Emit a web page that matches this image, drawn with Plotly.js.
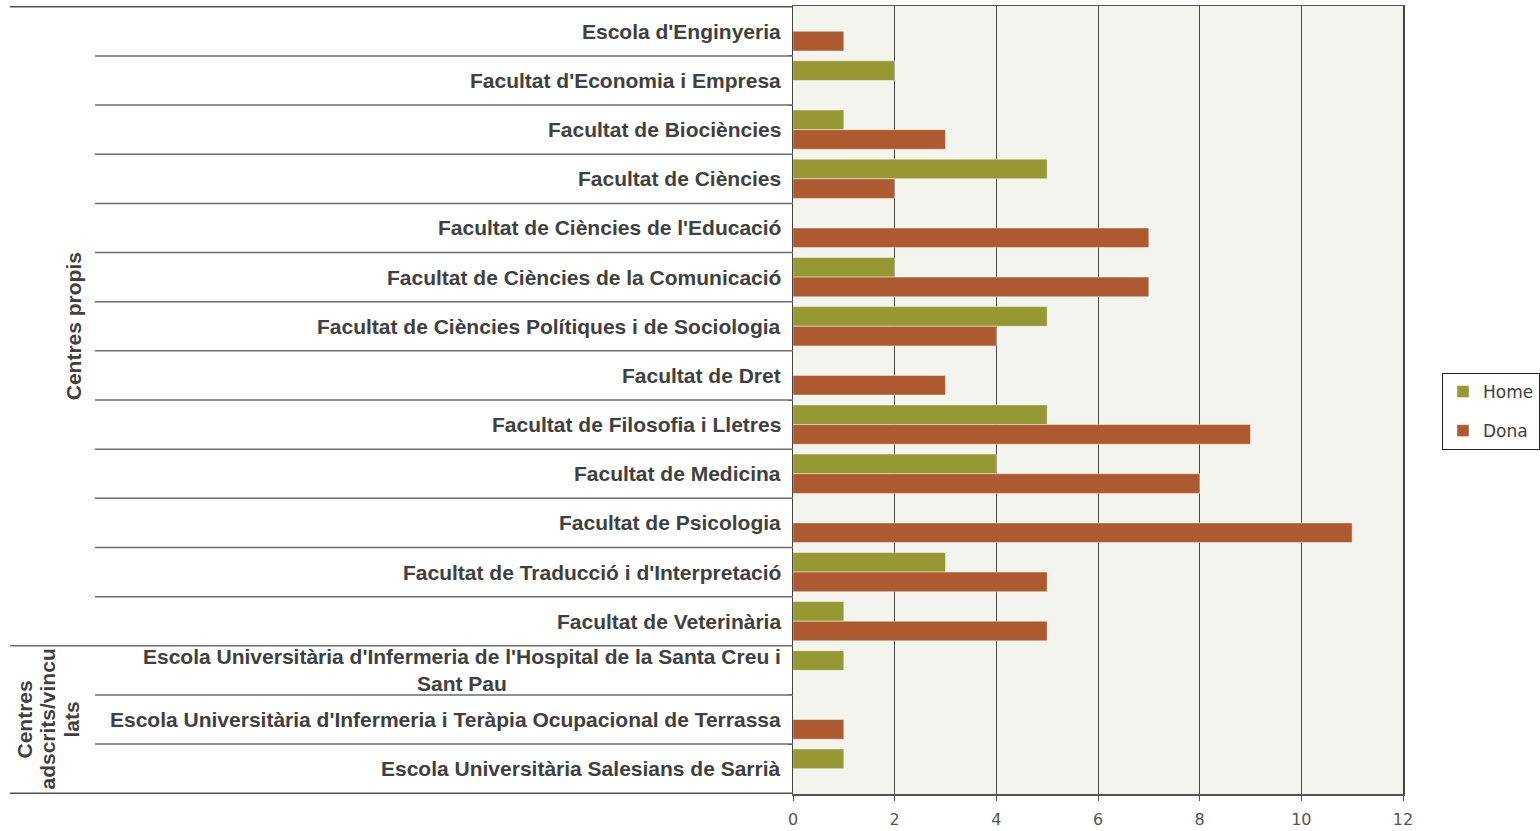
<!DOCTYPE html>
<html>
<head>
<meta charset="utf-8">
<script src="https://cdn.plot.ly/plotly-3.0.1.min.js"></script>
<style>html,body{margin:0;padding:0;background:#fff;}#chart{width:1540px;height:831px;}</style>
</head>
<body>
<div id="chart"></div>
<script>
const categories = [
  "Escola d'Enginyeria",
  "Facultat d'Economia i Empresa",
  "Facultat de Biociències",
  "Facultat de Ciències",
  "Facultat de Ciències de l'Educació",
  "Facultat de Ciències de la Comunicació",
  "Facultat de Ciències Polítiques i de Sociologia",
  "Facultat de Dret",
  "Facultat de Filosofia i Lletres",
  "Facultat de Medicina",
  "Facultat de Psicologia",
  "Facultat de Traducció i d'Interpretació",
  "Facultat de Veterinària",
  "Escola Universitària d'Infermeria de l'Hospital de la Santa Creu i<br>Sant Pau",
  "Escola Universitària d'Infermeria i Teràpia Ocupacional de Terrassa",
  "Escola Universitària Salesians de Sarrià"
];
const groupLabelLines = [["Centres propis"], ["Centres", "adscrits/vincu", "lats"]];
const groupSizes = [13, 3];
const home = [0, 2, 1, 5, 0, 2, 5, 0, 5, 4, 0, 3, 1, 1, 0, 1];
const dona = [1, 0, 3, 2, 7, 7, 4, 3, 9, 8, 11, 5, 5, 0, 1, 0];
const seriesNames = ["Home", "Dona"];
const xTicks = [0, 2, 4, 6, 8, 10, 12];

const plotLeft = 793, plotRight = 1403, plotW = plotRight - plotLeft;
const px = p => (p - plotLeft) / plotW;
const textColor = '#404040';
const labelFont = {family:'Liberation Sans, Arial, sans-serif', size:21, color:textColor, weight:'bold'};

const traces = [
  {type:'bar', orientation:'h', name:seriesNames[0], x:home, y:categories,
   marker:{color:'#969833', line:{color:'rgba(255,255,255,0.45)', width:1}}, legendgroup:'a', hoverinfo:'x+name'},
  {type:'bar', orientation:'h', name:seriesNames[1], x:dona, y:categories,
   marker:{color:'#ad5a31', line:{color:'rgba(255,255,255,0.45)', width:1}}, legendgroup:'b', hoverinfo:'x+name'}
];

const shapes = [];
const annotations = [];
let idx = 0;
const groupBounds = [-0.5];
groupSizes.forEach(s => { idx += s; groupBounds.push(idx - 0.5); });
for (let k = 1; k < categories.length; k++) {
  const b = k - 0.5;
  const isGroup = groupBounds.includes(b);
  shapes.push({type:'line', xref:'paper', yref:'y', x0: isGroup ? px(10) : px(95), x1: 0, y0: b, y1: b,
    line:{color:'#6e6e6e', width:1.5}});
}
shapes.push({type:'line', xref:'paper', yref:'y', x0: px(10), x1: 0, y0: -0.5, y1: -0.5, line:{color:'#555', width:1.5}});
shapes.push({type:'line', xref:'paper', yref:'y', x0: px(10), x1: 0, y0: categories.length - 0.5, y1: categories.length - 0.5, line:{color:'#555', width:1.5}});

categories.forEach((c, i) => {
  annotations.push({xref:'paper', yref:'y', x:0, y:i, xshift:-10, xanchor:'right', yanchor:'middle',
    text:c, showarrow:false, align:'center', font:labelFont});
});
let start = 0;
const groupLineX = [[73], [25, 48, 72]];
groupLabelLines.forEach((lines, gi) => {
  const mid = start + groupSizes[gi] / 2 - 0.5;
  lines.forEach((ln, li) => {
    annotations.push({xref:'paper', yref:'y', x:px(groupLineX[gi][li]), y:mid, xanchor:'center', yanchor:'middle',
      text:ln, showarrow:false, textangle:-90, font:labelFont});
  });
  start += groupSizes[gi];
});

const layout = {
  width:1540, height:831,
  margin:{l:plotLeft, r:1540 - plotRight, t:6, b:37, pad:0, autoexpand:false},
  paper_bgcolor:'#ffffff', plot_bgcolor:'#f4f4ef',
  barmode:'group', bargap:0.2, bargroupgap:0,
  showlegend:true,
  legend:{x:px(1442), y:(794-373)/788, xanchor:'left', yanchor:'top',
    bgcolor:'#ffffff', bordercolor:'#222', borderwidth:1,
    traceorder:'grouped', tracegroupgap:14,
    font:{family:'DejaVu Sans, Verdana, sans-serif', size:17, color:textColor}},
  xaxis:{range:[0,12], tickvals:xTicks, ticktext:xTicks.map(String), showgrid:true, gridcolor:'#4a4a4a', gridwidth:1,
    zeroline:false, showline:true, linecolor:'#555', linewidth:1.5, mirror:true, automargin:false,
    ticks:'outside', ticklen:5, tickcolor:'#555', ticklabelstandoff:5,
    tickfont:{family:'DejaVu Sans, Verdana, sans-serif', size:16, color:'#555'}, fixedrange:true},
  yaxis:{type:'category', autorange:'reversed', showticklabels:false, showgrid:false, zeroline:false, automargin:false,
    showline:true, linecolor:'#444', linewidth:1.5, mirror:true,
    ticks:'outside', tickson:'boundaries', ticklen:4, tickcolor:'#444', fixedrange:true},
  shapes:shapes, annotations:annotations
};

Plotly.newPlot('chart', traces, layout, {displayModeBar:false, staticPlot:true});
</script>
</body>
</html>
